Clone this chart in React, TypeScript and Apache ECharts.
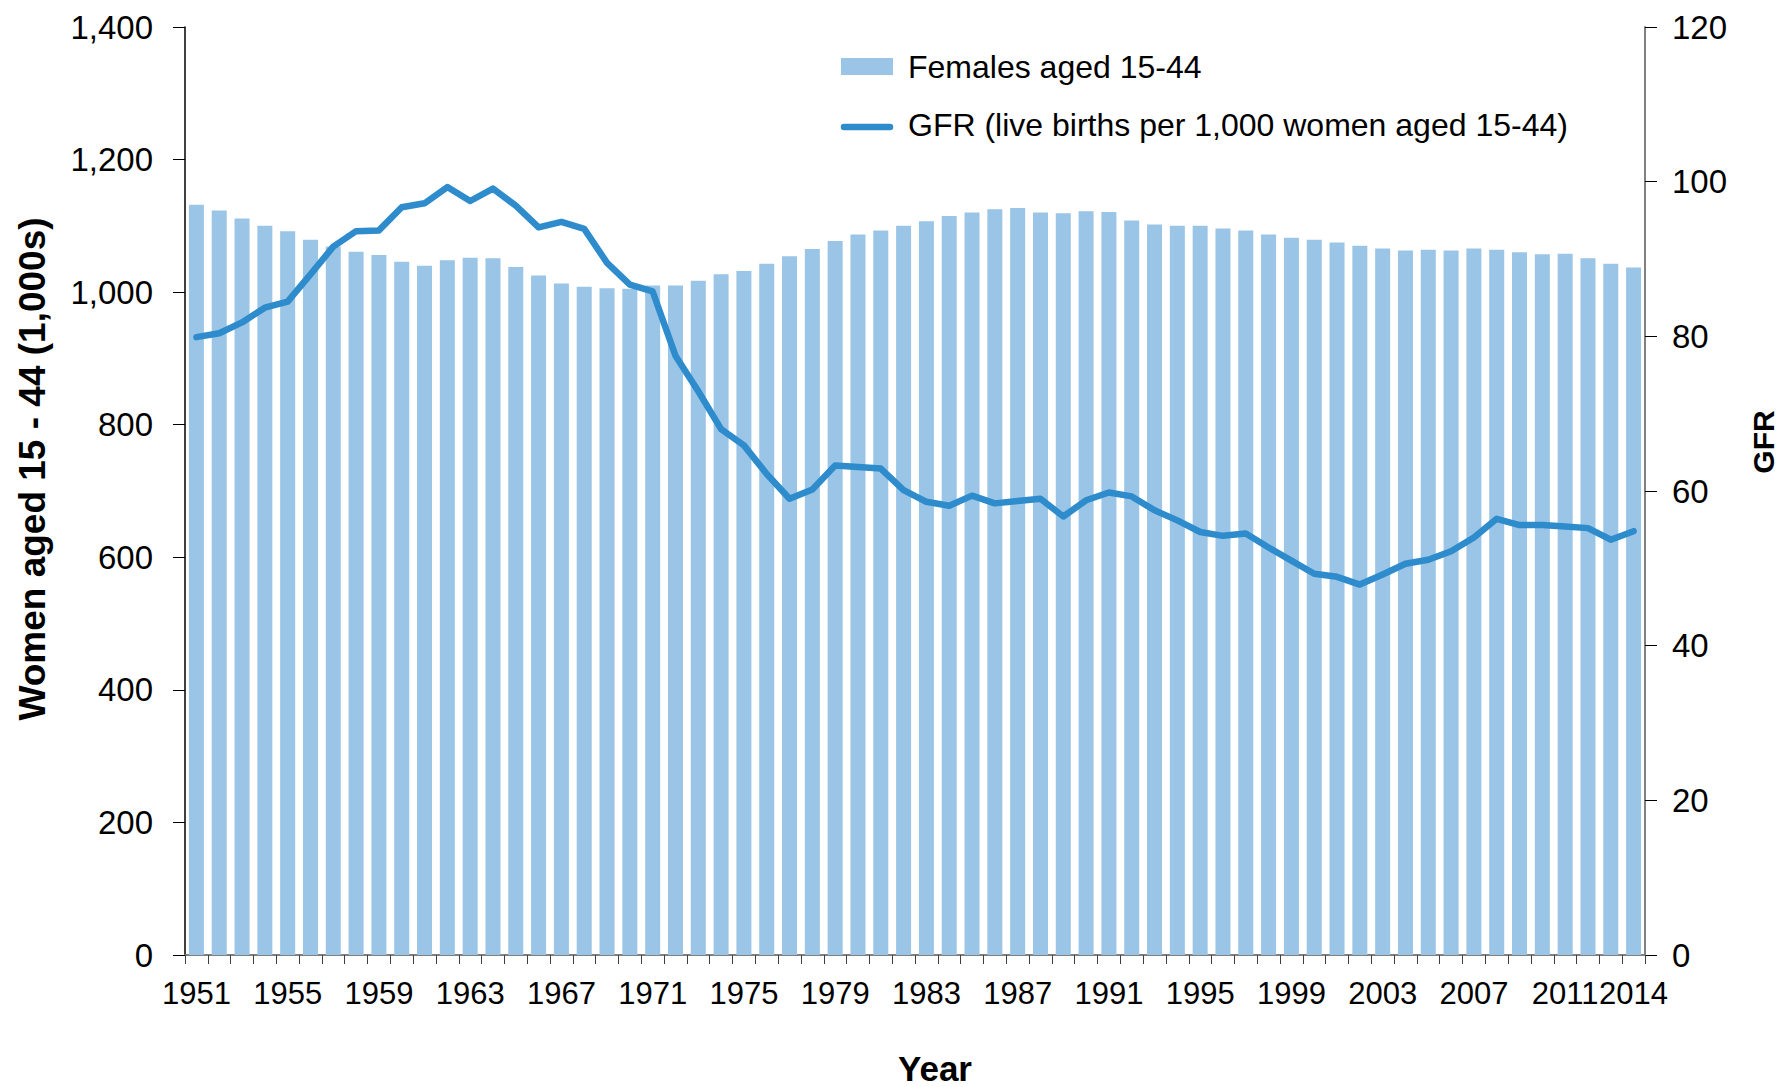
import React, { useEffect, useRef } from "react";
import * as echarts from "echarts";

const years: string[] = [];
for (let y = 1951; y <= 2014; y++) years.push(String(y));

const females: number[] = [
  1132, 1123, 1111, 1100, 1092, 1079, 1069, 1061, 1056, 1046,
  1040, 1048, 1052, 1051, 1038, 1025, 1013, 1008, 1006, 1005,
  1010, 1010, 1017, 1027, 1032, 1043, 1054, 1065, 1077, 1087,
  1093, 1100, 1107, 1115, 1120, 1125, 1127, 1120, 1119, 1122,
  1121, 1108, 1102, 1100, 1100, 1096, 1093, 1087, 1082, 1079,
  1075, 1070, 1066, 1063, 1064, 1063, 1066, 1064, 1060, 1057,
  1058, 1051, 1043, 1037,
];

const gfr: number[] = [
  79.9, 80.4, 81.8, 83.7, 84.5, 88.0, 91.6, 93.6, 93.7, 96.7,
  97.2, 99.3, 97.5, 99.1, 96.9, 94.1, 94.8, 93.9, 89.5, 86.7,
  85.8, 77.5, 72.9, 68.0, 65.9, 62.2, 59.0, 60.2, 63.3, 63.1,
  62.9, 60.1, 58.6, 58.1, 59.4, 58.4, 58.7, 59.0, 56.7, 58.8,
  59.8, 59.3, 57.5, 56.2, 54.7, 54.2, 54.5, 52.7, 51.0, 49.3,
  48.9, 47.9, 49.2, 50.6, 51.1, 52.2, 54.0, 56.4, 55.6, 55.6,
  55.4, 55.2, 53.7, 54.8,
];

const barName = "Females aged 15-44";
const lineName = "GFR (live births per 1,000 women aged 15-44)";
const leftTitle = "Women aged 15 - 44 (1,000s)";
const rightTitle = "GFR";
const xTitle = "Year";

const BAR_COLOR = "#9AC5E6";
const LINE_COLOR = "#2E8BCC";
const FONT = "'Liberation Sans', Arial, sans-serif";

export default function App() {
  const ref = useRef<HTMLDivElement>(null);
  useEffect(() => {
    document.body.style.margin = "0";
    const chart = echarts.init(ref.current!, undefined, { renderer: "svg" });
    const lastIdx = years.length - 1;
    chart.setOption({
      animation: false,
      backgroundColor: "#ffffff",
      textStyle: { fontFamily: FONT },
      grid: { left: 185, right: 141, top: 27, bottom: 132, containLabel: false },
      xAxis: {
        type: "category",
        data: years,
        boundaryGap: true,
        axisLine: { lineStyle: { color: "#808080", width: 2 } },
        axisTick: { show: true, interval: 0, length: 9, lineStyle: { color: "#404040", width: 1 } },
        axisLabel: {
          interval: (i: number) => i % 4 === 0 || i === lastIdx,
          color: "#000",
          fontSize: 31,
          fontFamily: FONT,
          margin: 23,
          hideOverlap: false,
        },
        splitLine: { show: false },
      },
      yAxis: [
        {
          type: "value",
          min: 0,
          max: 1400,
          interval: 200,
          position: "left",
          axisLine: { show: true, lineStyle: { color: "#000", width: 1.5 } },
          axisTick: { show: true, length: 12, lineStyle: { color: "#000", width: 1 } },
          axisLabel: {
            color: "#000",
            fontSize: 33,
            fontFamily: FONT,
            margin: 32,
            formatter: (v: number) => v.toLocaleString("en-US"),
          },
          splitLine: { show: false },
        },
        {
          type: "value",
          min: 0,
          max: 120,
          interval: 20,
          position: "right",
          axisLine: { show: true, lineStyle: { color: "#808080", width: 2 } },
          axisTick: { show: true, length: 12, lineStyle: { color: "#000", width: 1 } },
          axisLabel: { color: "#000", fontSize: 33, fontFamily: FONT, margin: 27 },
          splitLine: { show: false },
        },
      ],
      legend: { show: false },
      series: [
        {
          name: barName,
          type: "bar",
          data: females,
          yAxisIndex: 0,
          barWidth: 15,
          itemStyle: { color: BAR_COLOR },
          z: 2,
        },
        {
          name: lineName,
          type: "line",
          data: gfr,
          yAxisIndex: 1,
          symbol: "none",
          lineStyle: { color: LINE_COLOR, width: 6.5, join: "round", cap: "round" },
          itemStyle: { color: LINE_COLOR },
          z: 3,
        },
      ],
      graphic: [
        { type: "rect", shape: { x: 841, y: 58, width: 52, height: 17 }, style: { fill: BAR_COLOR } },
        {
          type: "text",
          x: 908,
          y: 67,
          style: { text: barName, fontSize: 32, fontFamily: FONT, fill: "#000", verticalAlign: "middle", align: "left" },
        },
        {
          type: "line",
          shape: { x1: 844, y1: 127, x2: 890, y2: 127 },
          style: { stroke: LINE_COLOR, lineWidth: 6.5, lineCap: "round" },
        },
        {
          type: "text",
          x: 908,
          y: 125,
          style: { text: lineName, fontSize: 32, fontFamily: FONT, fill: "#000", verticalAlign: "middle", align: "left" },
        },
        {
          type: "text",
          x: 32,
          y: 469,
          rotation: Math.PI / 2,
          style: {
            text: leftTitle,
            fontSize: 37,
            fontWeight: "bold",
            fontFamily: FONT,
            fill: "#000",
            align: "center",
            verticalAlign: "middle",
          },
        },
        {
          type: "text",
          x: 1763,
          y: 442,
          rotation: Math.PI / 2,
          style: {
            text: rightTitle,
            fontSize: 30,
            fontWeight: "bold",
            fontFamily: FONT,
            fill: "#000",
            align: "center",
            verticalAlign: "middle",
          },
        },
        {
          type: "text",
          x: 935,
          y: 1068,
          style: {
            text: xTitle,
            fontSize: 35,
            fontWeight: "bold",
            fontFamily: FONT,
            fill: "#000",
            align: "center",
            verticalAlign: "middle",
          },
        },
      ],
    });
    return () => chart.dispose();
  }, []);
  return (
    <div
      ref={ref}
      style={{ position: "fixed", left: 0, top: 0, width: 1786, height: 1087, background: "#fff" }}
    />
  );
}
